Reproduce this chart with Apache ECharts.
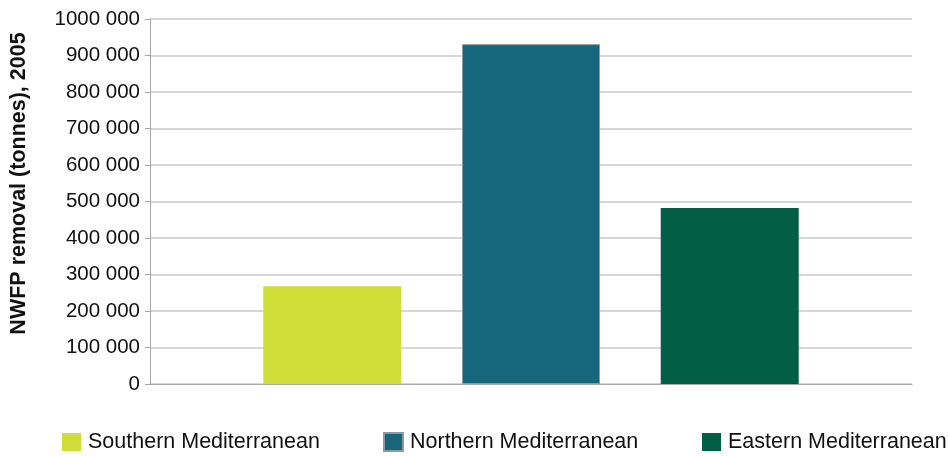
<!DOCTYPE html>
<html><head><meta charset="utf-8">
<script src="https://cdn.jsdelivr.net/npm/echarts@6/dist/echarts.min.js"></script>
<style>html,body{margin:0;padding:0;background:#fff}#c{width:948px;height:456px}</style>
</head><body><div id="c"></div>
<script>
const categories = ['2005'];
const seriesNames = ['Southern Mediterranean', 'Northern Mediterranean', 'Eastern Mediterranean'];
const southern = [268000];
const northern = [931000];
const eastern = [482000];
const yTickLabels = ['0','100 000','200 000','300 000','400 000','500 000','600 000','700 000','800 000','900 000','1000 000'];
const yAxisName = 'NWFP removal (tonnes), 2005';

const colors = ['#cfdd38', '#17677c', '#025f45'];
const font = 'Liberation Sans, Arial, Helvetica, sans-serif';
const chart = echarts.init(document.getElementById('c'), null, {renderer:'canvas'});
const values = [southern, northern, eastern];
const legendLefts = [57, 378, 697];
chart.setOption({
  animation: false,
  grid: {left: 150, right: 36, top: 19, bottom: 72, containLabel: false},
  legend: seriesNames.map((n, i) => ({
    data: [n], left: legendLefts[i], top: 426, itemWidth: 19, itemHeight: 18, itemGap: 5,
    icon: 'rect', selectedMode: false,
    textStyle: {fontFamily: font, fontSize: 21.5, color: '#111', padding: [0, 0, 0, 2]}
  })),
  xAxis: {
    type: 'category', data: categories,
    axisLine: {show: true, lineStyle: {color: '#a8a8a8', width: 1}},
    axisTick: {show: false}, axisLabel: {show: false}
  },
  yAxis: {
    type: 'value', min: 0, max: 1000000, interval: 100000,
    name: yAxisName, nameLocation: 'middle', nameGap: 120, nameRotate: 90,
    nameTextStyle: {fontFamily: font, fontSize: 21.5, fontWeight: 'bold', color: '#111', padding: [0, 0, 0, 36]},
    axisLine: {show: true, lineStyle: {color: '#a8a8a8', width: 1}},
    axisTick: {show: true, length: 5, lineStyle: {color: '#a8a8a8'}},
    axisLabel: {
      fontFamily: font, fontSize: 20.5, color: '#111', margin: 10,
      formatter: (v) => yTickLabels[Math.round(v / 100000)]
    },
    splitLine: {show: true, lineStyle: {color: '#c8c8c8', width: 1.5}}
  },
  series: seriesNames.map((n, i) => ({
    name: n, type: 'bar', data: values[i], barWidth: 138, barGap: '44%',
    itemStyle: {color: colors[i], borderColor: i === 1 ? '#8a9a9e' : colors[i], borderWidth: i === 1 ? 1 : 0}
  }))
});
</script></body></html>
